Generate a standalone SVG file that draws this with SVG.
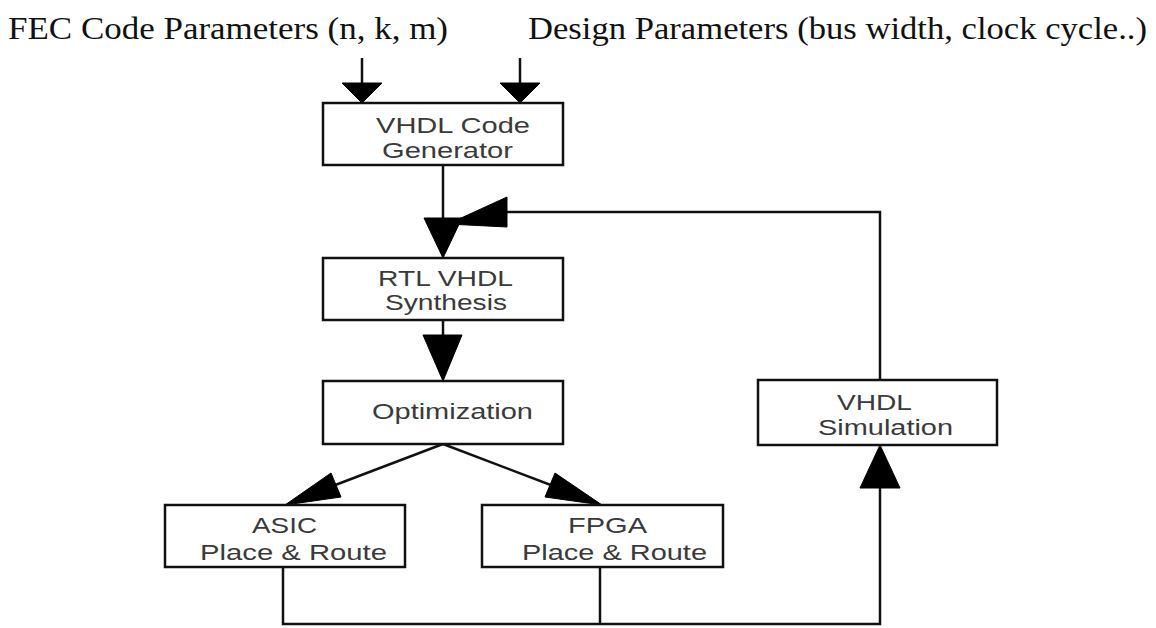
<svg xmlns="http://www.w3.org/2000/svg" width="1156" height="628" viewBox="0 0 1156 628">
<style>
.box{fill:#fff;stroke:#111;stroke-width:2.5}
.lbl{font-family:"Liberation Sans",Arial,sans-serif;font-size:22px;fill:#3a3a3a;text-anchor:start}
.top{font-family:"Liberation Serif","Times New Roman",serif;font-size:31px;fill:#111}
.ln{fill:none;stroke:#111;stroke-width:2.5}
.ah{fill:#000;stroke:#000;stroke-width:1}
</style>
<rect width="1156" height="628" fill="#fff"/>
<text class="top" x="8" y="39" textLength="440" lengthAdjust="spacingAndGlyphs">FEC Code Parameters (n, k, m)</text>
<text class="top" x="528" y="39" textLength="619" lengthAdjust="spacingAndGlyphs">Design Parameters (bus width, clock cycle..)</text>
<g id="connectors">
<line class="ln" x1="362" y1="58" x2="362" y2="90"/>
<polygon class="ah" points="342,83 382,83 362,103"/>
<line class="ln" x1="520" y1="58" x2="520" y2="90"/>
<polygon class="ah" points="500,83 540,83 520,103"/>
<line class="ln" x1="443" y1="165" x2="443" y2="240"/>
<polygon class="ah" points="424,218 462,218 443,258"/>
<polyline class="ln" points="505,212 880,212 880,380"/>
<polygon class="ah" points="507,197 507,227 448,224"/>
<line class="ln" x1="443" y1="320" x2="443" y2="360"/>
<polygon class="ah" points="423,335 462,335 443,381"/>
<line class="ln" x1="443" y1="444" x2="330" y2="487"/>
<polygon class="ah" points="331,473 341,497 285,505"/>
<line class="ln" x1="443" y1="444" x2="556" y2="487"/>
<polygon class="ah" points="555,473 545,497 602,505"/>
<polyline class="ln" points="283,567 283,624 880,624 880,470"/>
<line class="ln" x1="600" y1="567" x2="600" y2="624"/>
<polygon class="ah" points="860,488 900,488 880,445"/>
</g>
<g id="gen">
<rect class="box" x="323" y="103" width="240" height="62"/>
<text class="lbl" x="376" y="133" textLength="154" lengthAdjust="spacingAndGlyphs">VHDL Code</text>
<text class="lbl" x="382" y="158" textLength="131" lengthAdjust="spacingAndGlyphs">Generator</text>
</g>
<g id="rtl">
<rect class="box" x="323" y="258" width="240" height="62"/>
<text class="lbl" x="378" y="286" textLength="135" lengthAdjust="spacingAndGlyphs">RTL VHDL</text>
<text class="lbl" x="385" y="310" textLength="122" lengthAdjust="spacingAndGlyphs">Synthesis</text>
</g>
<g id="opt">
<rect class="box" x="323" y="381" width="240" height="63"/>
<text class="lbl" x="372" y="419" textLength="161" lengthAdjust="spacingAndGlyphs">Optimization</text>
</g>
<g id="asic">
<rect class="box" x="165" y="505" width="240" height="62"/>
<text class="lbl" x="252" y="533" textLength="65" lengthAdjust="spacingAndGlyphs">ASIC</text>
<text class="lbl" x="200" y="560" textLength="187" lengthAdjust="spacingAndGlyphs">Place &amp; Route</text>
</g>
<g id="fpga">
<rect class="box" x="482" y="505" width="241" height="62"/>
<text class="lbl" x="568" y="533" textLength="79" lengthAdjust="spacingAndGlyphs">FPGA</text>
<text class="lbl" x="522" y="560" textLength="185" lengthAdjust="spacingAndGlyphs">Place &amp; Route</text>
</g>
<g id="sim">
<rect class="box" x="758" y="380" width="239" height="65"/>
<text class="lbl" x="837" y="410" textLength="75" lengthAdjust="spacingAndGlyphs">VHDL</text>
<text class="lbl" x="818" y="435" textLength="135" lengthAdjust="spacingAndGlyphs">Simulation</text>
</g>
</svg>
